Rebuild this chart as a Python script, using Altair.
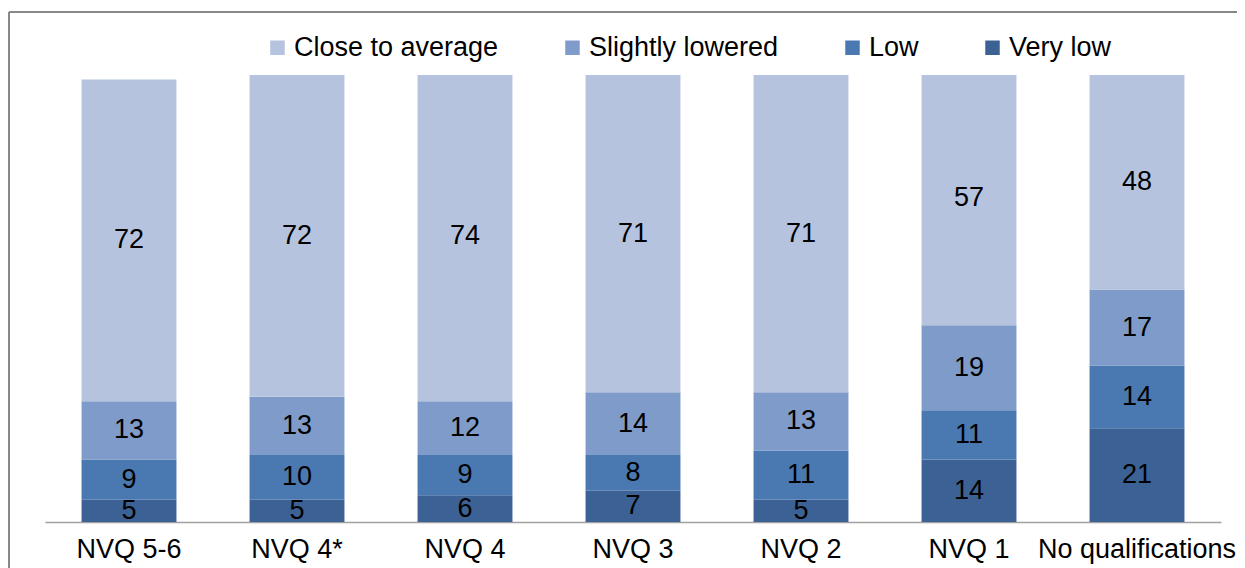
import altair as alt
import pandas as pd

categories = ["NVQ 5-6", "NVQ 4*", "NVQ 4", "NVQ 3", "NVQ 2", "NVQ 1", "No qualifications"]
levels = ["Close to average", "Slightly lowered", "Low", "Very low"]
very_low = [5, 5, 6, 7, 5, 14, 21]
low = [9, 10, 9, 8, 11, 11, 14]
slightly = [13, 13, 12, 14, 13, 19, 17]
close = [72, 72, 74, 71, 71, 57, 48]
colors = ["#B6C3DF", "#7F9BC9", "#4A78B0", "#3C6295"]

series = {"Very low": very_low, "Low": low, "Slightly lowered": slightly, "Close to average": close}
rank = {"Very low": 0, "Low": 1, "Slightly lowered": 2, "Close to average": 3}
rows = []
for lvl, vals in series.items():
    for c, v in zip(categories, vals):
        rows.append({"cat": c, "level": lvl, "value": v, "rank": rank[lvl]})
df = pd.DataFrame(rows)

FONT = "Liberation Sans"
FS = 27

base = alt.Chart(df).transform_stack(
    stack="value", groupby=["cat"], as_=["y0", "y1"], sort=[alt.SortField("rank", order="ascending")]
).transform_calculate(mid="(datum.y0 + datum.y1) / 2")

xenc = alt.X("cat:N", sort=categories, title=None,
             scale=alt.Scale(paddingInner=0.435, paddingOuter=0.2175),
             axis=alt.Axis(labelAngle=0, ticks=False, domainColor="#A0A0A0", domainWidth=1.5,
                           labelFont=FONT, labelFontSize=FS, labelColor="#000000", labelPadding=14,
                           labelLimit=400))

bars = base.mark_bar().encode(
    x=xenc,
    y=alt.Y("y0:Q", scale=alt.Scale(domain=[0, 100], clamp=True), axis=None),
    y2="y1:Q",
    color=alt.Color("level:N", scale=alt.Scale(domain=levels, range=colors),
                    legend=alt.Legend(title=None, orient="none", direction="horizontal",
                                      legendX=219, legendY=-41, symbolType="square", symbolSize=210,
                                      symbolStrokeWidth=0, labelFont=FONT, labelFontSize=FS,
                                      labelColor="#000000", columnPadding=60, labelOffset=3,
                                      labelLimit=400)),
)

labels = base.mark_text(font=FONT, fontSize=FS, color="#000000", baseline="middle").encode(
    x=alt.X("cat:N", sort=categories),
    y=alt.Y("mid:Q"),
    text=alt.Text("value:Q"),
)

frame_df = pd.DataFrame({"a": [0]})
left_line = alt.Chart(frame_df).mark_rule(color="#888888", strokeWidth=2).encode(
    x=alt.value(-36), y=alt.value(-63), y2=alt.value(530))
top_line = alt.Chart(frame_df).mark_rule(color="#888888", strokeWidth=2).encode(
    x=alt.value(-36), x2=alt.value(1250), y=alt.value(-63))

chart = alt.layer(bars, labels, left_line, top_line).properties(
    width=1176, height=447,
    autosize=alt.AutoSizeParams(type="none"),
    padding={"left": 37, "top": 67, "right": 16, "bottom": 46},
).configure_view(stroke=None)

chart.save("out.html", embed_options={"renderer": "svg", "actions": False})
